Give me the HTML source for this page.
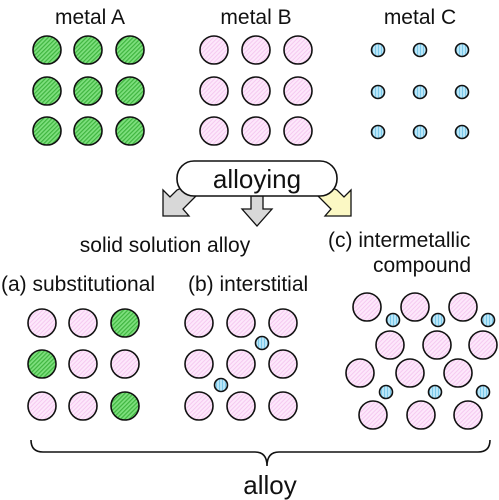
<!DOCTYPE html>
<html><head><style>body{margin:0;background:#fff}svg{display:block}text{font-family:"Liberation Sans",sans-serif;fill:#111}</style></head><body>
<svg width="499" height="500" viewBox="0 0 499 500" xmlns="http://www.w3.org/2000/svg">
<defs>
<pattern id="g" width="3" height="3" patternUnits="userSpaceOnUse" patternTransform="rotate(45)"><rect width="3" height="3" fill="#7ee07e"/><rect width="1.2" height="3" fill="#3fb43f"/></pattern>
<pattern id="p" width="3" height="3" patternUnits="userSpaceOnUse" patternTransform="rotate(45)"><rect width="3" height="3" fill="#fde8fb"/><rect width="1" height="3" fill="#f5c9f0"/></pattern>
<pattern id="b" width="3" height="3" patternUnits="userSpaceOnUse"><rect width="3" height="3" fill="#b9e6f8"/><rect width="1" height="3" fill="#7cc9ea"/></pattern>
</defs>
<g font-size="21" text-anchor="middle">
<text x="90" y="24">metal A</text><text x="256" y="24">metal B</text><text x="420" y="24">metal C</text>
</g>
<g stroke="#111" stroke-width="1.6">
<g fill="url(#g)">
<circle cx="47" cy="50" r="14"/><circle cx="88" cy="50" r="14"/><circle cx="130" cy="50" r="14"/>
<circle cx="47" cy="91" r="14"/><circle cx="88" cy="91" r="14"/><circle cx="130" cy="91" r="14"/>
<circle cx="47" cy="131" r="14"/><circle cx="88" cy="131" r="14"/><circle cx="130" cy="131" r="14"/>
</g>
<g fill="url(#p)">
<circle cx="214" cy="50" r="14"/><circle cx="256" cy="50" r="14"/><circle cx="298" cy="50" r="14"/>
<circle cx="214" cy="91" r="14"/><circle cx="256" cy="91" r="14"/><circle cx="298" cy="91" r="14"/>
<circle cx="214" cy="131" r="14"/><circle cx="256" cy="131" r="14"/><circle cx="298" cy="131" r="14"/>
</g>
<g fill="url(#b)">
<circle cx="378" cy="50" r="6.5"/><circle cx="420" cy="50" r="6.5"/><circle cx="462" cy="50" r="6.5"/>
<circle cx="378" cy="92" r="6.5"/><circle cx="420" cy="92" r="6.5"/><circle cx="462" cy="92" r="6.5"/>
<circle cx="378" cy="132" r="6.5"/><circle cx="420" cy="132" r="6.5"/><circle cx="462" cy="132" r="6.5"/>
</g>
</g>
<g stroke="#111" stroke-width="1.3">
<path d="M186 186 L196 196 L183 209 L189 216 L163 216 L163 190 L170 197 L177 190 Z" fill="#d8d8d8"/>
<path d="M251 196 L263 196 L263 209 L272 209 L257 226 L242 209 L251 209 Z" fill="#d8d8d8"/>
<path d="M328 186 L318 196 L331 209 L325 216 L351 216 L351 190 L344 197 L337 190 Z" fill="#fbf8c4"/>
<rect x="177" y="161" width="160" height="35" rx="17" fill="#fff" stroke-width="1.6"/>
</g>
<text x="257" y="188" font-size="26" text-anchor="middle">alloying</text>
<g font-size="21">
<text x="165" y="252" text-anchor="middle">solid solution alloy</text>
<text x="1" y="291">(a) substitutional</text>
<text x="188" y="291">(b) interstitial</text>
<text x="328" y="247">(c)  intermetallic</text>
<text x="422" y="272" text-anchor="middle">compound</text>
</g>
<g stroke="#111" stroke-width="1.6">
<g fill="url(#p)">
<circle cx="42" cy="323" r="14"/><circle cx="83" cy="323" r="14"/>
<circle cx="83" cy="364" r="14"/><circle cx="125" cy="364" r="14"/>
<circle cx="42" cy="406" r="14"/><circle cx="83" cy="406" r="14"/>
<circle cx="199" cy="323" r="14"/><circle cx="241" cy="323" r="14"/><circle cx="283" cy="323" r="14"/>
<circle cx="199" cy="364" r="14"/><circle cx="241" cy="364" r="14"/><circle cx="283" cy="364" r="14"/>
<circle cx="199" cy="406" r="14"/><circle cx="241" cy="406" r="14"/><circle cx="283" cy="406" r="14"/>
<circle cx="367" cy="307" r="14"/><circle cx="415" cy="307" r="14"/><circle cx="463" cy="307" r="14"/>
<circle cx="390" cy="345" r="14"/><circle cx="437" cy="345" r="14"/><circle cx="483" cy="345" r="14"/>
<circle cx="360" cy="373" r="14"/><circle cx="410" cy="373" r="14"/><circle cx="458" cy="373" r="14"/>
<circle cx="373" cy="415" r="14"/><circle cx="421" cy="415" r="14"/><circle cx="468" cy="415" r="14"/>
</g>
<g fill="url(#g)">
<circle cx="125" cy="323" r="14"/><circle cx="42" cy="364" r="14"/><circle cx="125" cy="406" r="14"/>
</g>
<g fill="url(#b)">
<circle cx="262" cy="343" r="6.5"/><circle cx="221" cy="385" r="6.5"/>
<circle cx="393" cy="320" r="6.5"/><circle cx="438" cy="320" r="6.5"/><circle cx="488" cy="320" r="6.5"/>
<circle cx="386" cy="392" r="6.5"/><circle cx="435" cy="392" r="6.5"/><circle cx="483" cy="392" r="6.5"/>
</g>
</g>
<path d="M31 440 Q31 452 43 452 L255 452 Q267 452 267 466 Q267 452 279 452 L478 452 Q490 452 490 440" fill="none" stroke="#111" stroke-width="1.6"/>
<text x="270" y="494" font-size="26" text-anchor="middle">alloy</text>
</svg>
</body></html>
